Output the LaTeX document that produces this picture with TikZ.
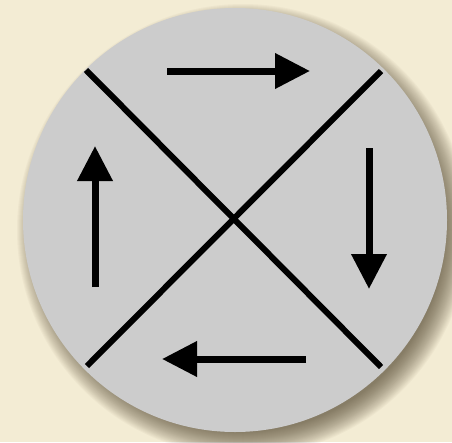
\documentclass[tikz,border=0pt]{standalone}
\usetikzlibrary{arrows.meta}
\definecolor{bg}{HTML}{F3ECD4}
\definecolor{disc}{HTML}{CCCCCC}
\definecolor{shad}{HTML}{4A3E28}
\tikzset{
  divider/.style={line width=6pt, black},
  flow/.style={line width=7pt, black, -{Triangle[length=35pt,width=34pt]}}
}
\begin{document}
\begin{tikzpicture}[x=1pt,y=-1pt]
\fill[bg] (0,0) rectangle (452,442);
\useasboundingbox (0,0) rectangle (452,442);
% soft shadow
\foreach \i in {0,...,24}{
  \fill[shad, opacity=0.035] (243,230) circle ({226-\i});
}
\node[circle, fill=disc, minimum size=424pt, inner sep=0pt] (c) at (235,220) {};
\coordinate (a1) at (86,70);
\coordinate (a2) at (381,367);
\coordinate (b1) at (381,71);
\coordinate (b2) at (87,366);
\draw[divider] (a1) -- (a2);
\draw[divider] (b1) -- (b2);
\coordinate (t1) at (167,71);  \coordinate (t2) at (310,71);
\coordinate (r1) at (369,148); \coordinate (r2) at (369,289);
\coordinate (d1) at (306,359); \coordinate (d2) at (162,359);
\coordinate (l1) at (95,287);  \coordinate (l2) at (95,146);
\draw[flow] (t1) -- (t2);
\draw[flow] (r1) -- (r2);
\draw[flow] (d1) -- (d2);
\draw[flow] (l1) -- (l2);
\end{tikzpicture}
\end{document}
